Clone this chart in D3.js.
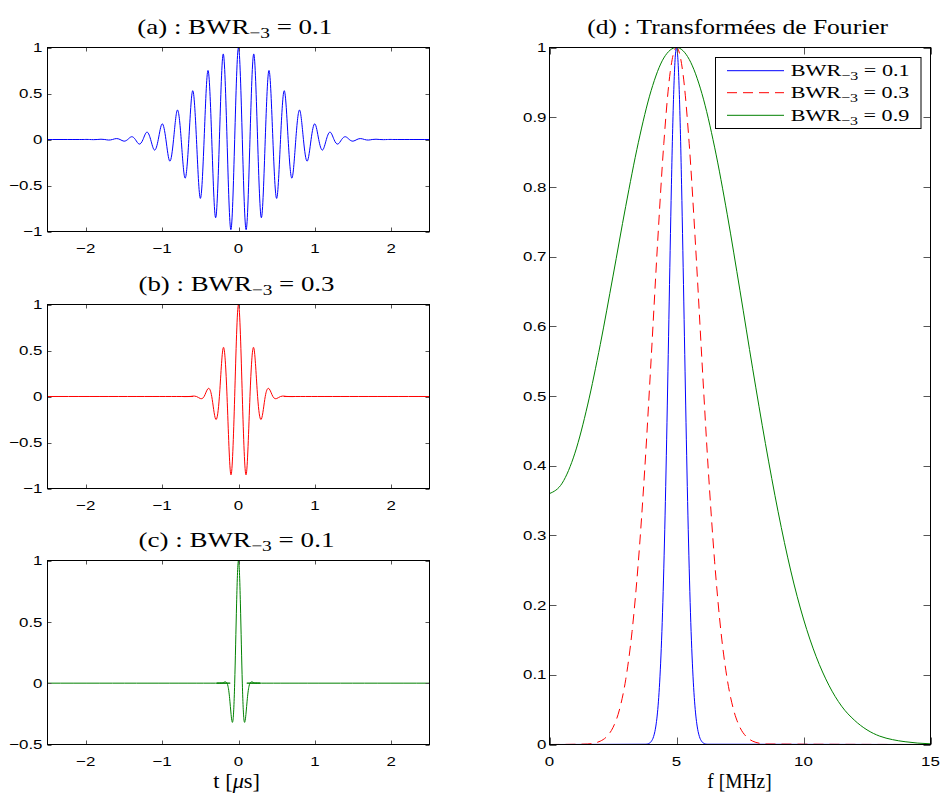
<!DOCTYPE html>
<html><head><meta charset="utf-8">
<script src="https://cdn.jsdelivr.net/npm/d3@7"></script>
<style>body{margin:0;background:#fff}svg{display:block}</style>
</head><body>
<svg id="c" width="943" height="796"></svg>
<script>
// ---------- DATA ----------
// (a) BWR_-3 = 0.1 : peaks and zero crossings, t >= 0 (signal is even)
const tA = [0,0.05,0.1,0.15,0.2,0.25,0.3,0.35,0.4,0.45,0.5,0.55,0.6,0.65,0.7,0.75,0.8,0.85,0.9,0.95,1.0,1.05,1.1,1.15,1.2,1.25,1.3,1.35,1.4,1.45,1.5,1.55,1.6,1.65,1.7,1.75,1.8,1.85,1.9,1.95,2.0,2.05,2.5];
const yA = [1,0,-0.98,0,0.93,0,-0.85,0,0.75,0,-0.64,0,0.53,0,-0.42,0,0.32,0,-0.235,0,0.17,0,-0.115,0,0.08,0,-0.05,0,0.03,0,-0.018,0,0.01,0,-0.006,0,0.003,0,-0.0016,0,0.0008,0,0];
// (b) BWR_-3 = 0.3
const tB = [0,0.05,0.1,0.15,0.2,0.25,0.3,0.35,0.4,0.45,0.5,0.55,0.6,0.65,0.7,0.75,2.5];
const yB = [1,0,-0.85,0,0.53,0,-0.245,0,0.085,0,-0.022,0,0.004,0,-0.0005,0,0];
// (c) third pulse
const tC = [0,0.0125,0.025,0.0375,0.05,0.0625,0.075,0.0875,0.1,0.1125,0.125,0.1375,0.15,0.1625,0.175,0.1875,0.2,0.225,0.25,0.3,2.5];
const yC = [1,0.903,0.646,0.312,0,-0.217,-0.313,-0.304,-0.235,-0.147,-0.073,-0.025,0,0.008,0.011,0.008,0.004,0.001,0,0,0];

// (d) spectra
const fG = [0,0.5,1,1.5,2,2.5,3,3.5,4,4.5,5,5.5,6,6.5,7,7.5,8,8.5,9,9.5,10,10.5,11,11.5,12,12.5,13,13.5,14,14.5,15];
const sG = [0.36,0.375,0.418,0.487,0.574,0.672,0.772,0.864,0.938,0.985,1.0,0.983,0.934,0.857,0.76,0.651,0.539,0.432,0.334,0.249,0.18,0.126,0.085,0.055,0.035,0.021,0.012,0.007,0.004,0.002,0.001];
const fR = [0,1.5,1.75,2,2.25,2.5,2.75,3,3.25,3.5,3.75,4,4.25,4.5,4.75,5,5.25,5.5,5.75,6,6.25,6.5,6.75,7,7.25,7.5,7.75,8,8.25,8.5,15];
const sR = [0,0.0007,0.0019,0.0048,0.0112,0.0244,0.0494,0.093,0.162,0.263,0.395,0.552,0.716,0.862,0.964,1,0.964,0.862,0.716,0.552,0.395,0.263,0.162,0.093,0.0494,0.0244,0.0112,0.0048,0.0019,0.0007,0];
const fB = [0,3.8,3.9,4.0,4.1,4.15,4.2,4.25,4.3,4.35,4.4,4.45,4.5,4.55,4.6,4.65,4.7,4.75,4.8,4.85,4.9,4.95,5.0,5.05,5.1,5.15,5.2,5.25,5.3,5.35,5.4,5.45,5.5,5.55,5.6,5.65,5.7,5.75,5.8,5.85,5.9,6.0,6.1,6.2,15];
const sB = [0,0.0004,0.0013,0.0041,0.0116,0.0188,0.0296,0.0453,0.0675,0.098,0.138,0.189,0.253,0.328,0.415,0.51,0.61,0.709,0.803,0.884,0.946,0.986,1,0.986,0.946,0.884,0.803,0.709,0.61,0.51,0.415,0.328,0.253,0.189,0.138,0.098,0.0675,0.0453,0.0296,0.0188,0.0116,0.0041,0.0013,0.0004,0];

const tTicks = [-2,-1,0,1,2];
const yTicksAB = [-1,-0.5,0,0.5,1];
const yTicksC = [-0.5,0,0.5,1];
const fTicks = [0,5,10,15];
const sTicks = [0,0.1,0.2,0.3,0.4,0.5,0.6,0.7,0.8,0.9,1];
const legendLabels = ["0.1","0.3","0.9"];

// ---------- DRAW ----------
const svg = d3.select("#c");
const SANS = "'Liberation Sans', Arial, Helvetica, sans-serif";
const SERIF = "'Liberation Serif', 'DejaVu Serif', serif";
const SX = 1.3; // horizontal stretch of the reference text
const fmt = v => (v < 0 ? "\u2212" : "") + String(Math.abs(v));

function mirror(t, y){
  const pts = [];
  for (let i = t.length-1; i > 0; i--) pts.push([-t[i], y[i]]);
  for (let i = 0; i < t.length; i++) pts.push([t[i], y[i]]);
  return pts;
}

let clipId = 0;
function panel(x0, x1, y0, y1, xdom, ydom, xt, yt, tickLen, ylabX){
  const x = d3.scaleLinear().domain(xdom).range([x0, x1]);
  const y = d3.scaleLinear().domain(ydom).range([y1, y0]);
  const g = svg.append("g");
  const id = "clip" + (clipId++);
  g.append("clipPath").attr("id", id).append("rect")
    .attr("x", x0).attr("y", y0 - 1).attr("width", x1 - x0).attr("height", y1 - y0 + 2);
  const plot = g.append("g").attr("clip-path", `url(#${id})`);
  const tk = g.append("g").attr("stroke", "#555").attr("stroke-width", 1);
  xt.forEach(v => {
    const px = Math.round(x(v)) + 0.5;
    tk.append("line").attr("x1", px).attr("x2", px).attr("y1", y1).attr("y2", y1 - tickLen);
    tk.append("line").attr("x1", px).attr("x2", px).attr("y1", y0).attr("y2", y0 + tickLen);
    const tg = g.append("g").attr("transform", `translate(${x(v)},${y1 + 21}) scale(${SX},1)`);
    tg.append("text").attr("text-anchor", "middle").attr("font-family", SANS)
      .attr("font-size", 13).attr("fill", "#000").text(fmt(v));
  });
  yt.forEach(v => {
    const py = Math.round(y(v)) + 0.5;
    tk.append("line").attr("x1", x0).attr("x2", x0 + tickLen).attr("y1", py).attr("y2", py);
    tk.append("line").attr("x1", x1).attr("x2", x1 - tickLen).attr("y1", py).attr("y2", py);
    const tg = g.append("g").attr("transform", `translate(${ylabX},${y(v)}) scale(${SX},1)`);
    tg.append("text").attr("text-anchor", "end").attr("dy", "0.36em").attr("font-family", SANS)
      .attr("font-size", 13).attr("fill", "#000").text(fmt(v));
  });
  g.append("rect").attr("x", x0).attr("y", y0).attr("width", x1 - x0).attr("height", y1 - y0)
    .attr("fill", "none").attr("stroke", "#000").attr("stroke-width", 1);
  return {x, y, plot, g};
}

function fitText(textSel, gx, baseline, width, mode){
  const bb = textSel.node().getBBox();
  const s = width / bb.width;
  const shift = mode === "start" ? -bb.x : -(bb.x + bb.width / 2);
  textSel.attr("transform", `translate(${gx},${baseline}) scale(${s},1) translate(${shift},0)`);
}

function bwrText(parent, prefix, val, size){
  const t = parent.append("text").attr("font-family", SERIF).attr("font-size", size).attr("fill", "#000");
  t.append("tspan").text(prefix + "BWR");
  t.append("tspan").attr("font-size", size * 0.72).attr("dy", size * 0.22).text("\u22123");
  t.append("tspan").attr("dy", -size * 0.22).text(" = " + val);
  return t;
}

const L0 = 47.5, L1 = 429.5;
const pa = panel(L0, L1, 47.5, 231.5, [-2.5, 2.5], [-1, 1], tTicks, yTicksAB, 4, 42.5);
const pb = panel(L0, L1, 304.5, 488.5, [-2.5, 2.5], [-1, 1], tTicks, yTicksAB, 4, 42.5);
const pc = panel(L0, L1, 560.5, 744.5, [-2.5, 2.5], [-0.5, 1], tTicks, yTicksC, 4, 42.5);
const pd = panel(549.5, 930.5, 47.5, 744.5, [0, 15], [0, 1], fTicks, sTicks, 7, 546.5);

function drawLine(p, pts, color, dash, curve){
  const line = d3.line().x(d => p.x(d[0])).y(d => p.y(d[1])).curve(curve);
  const path = p.plot.append("path").datum(pts).attr("d", line)
    .attr("fill", "none").attr("stroke", color).attr("stroke-width", 1)
    .attr("stroke-linejoin", "round");
  if (dash) path.attr("stroke-dasharray", dash);
}
drawLine(pa, mirror(tA, yA), "#0000ff", null, d3.curveNatural);
drawLine(pb, mirror(tB, yB), "#ff0000", null, d3.curveNatural);
drawLine(pc, mirror(tC, yC), "#008000", null, d3.curveNatural);

const zip = (a, b) => a.map((v, i) => [v, b[i]]);
drawLine(pd, zip(fB, sB), "#0000ff", null, d3.curveMonotoneX);
drawLine(pd, zip(fR, sR), "#ff0000", "10,6", d3.curveMonotoneX);
drawLine(pd, zip(fG, sG), "#008000", null, d3.curveMonotoneX);

// titles
fitText(bwrText(svg, "(a) : ", "0.1", 21), 234.8, 33.7, 195, "mid");
fitText(bwrText(svg, "(b) : ", "0.3", 21), 236.5, 290.5, 196, "mid");
fitText(bwrText(svg, "(c) : ", "0.1", 21), 236.5, 546.5, 196, "mid");
const td = svg.append("text").attr("font-family", SERIF).attr("font-size", 21).attr("fill", "#000")
  .text("(d) : Transformées de Fourier");
fitText(td, 737.8, 33.7, 301, "mid");

// axis labels
const xl = svg.append("text").attr("font-family", SERIF).attr("font-size", 20).attr("fill", "#000");
xl.append("tspan").text("t [");
xl.append("tspan").attr("font-style", "italic").text("\u03bc");
xl.append("tspan").text("s]");
fitText(xl, 236.7, 788, 46.7, "mid");
const fl = svg.append("text").attr("font-family", SERIF).attr("font-size", 20).attr("fill", "#000")
  .text("f [MHz]");
fitText(fl, 739.5, 788, 64.3, "mid");

// legend
const lg = svg.append("g");
lg.append("rect").attr("x", 715.5).attr("y", 57.5).attr("width", 205.5).attr("height", 71)
  .attr("fill", "#fff").attr("stroke", "#000").attr("stroke-width", 1);
const legColors = ["#0000ff", "#ff0000", "#008000"];
const legDash = [null, "10,6", null];
const legY = [70.7, 92.7, 115.3];
legendLabels.forEach((lab, i) => {
  const ln = lg.append("line").attr("x1", 727).attr("x2", 784).attr("y1", legY[i]).attr("y2", legY[i])
    .attr("stroke", legColors[i]).attr("stroke-width", 1);
  if (legDash[i]) ln.attr("stroke-dasharray", legDash[i]);
  const t = bwrText(lg, "", lab, 17.5);
  fitText(t, 790.7, legY[i] + 5.5, 119, "start");
});
</script>
</body></html>
